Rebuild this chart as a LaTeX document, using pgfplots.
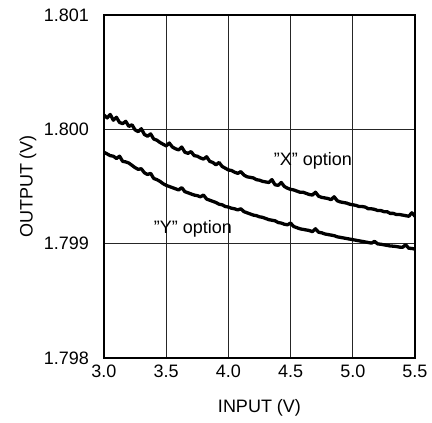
\documentclass[border=0pt]{standalone}
\usepackage{fontspec}
\setmainfont{Liberation Sans}
\usepackage{pgfplots}
\pgfplotsset{compat=1.18}

\pgfplotstableread{
x y
3.000 1.800125
3.025 1.800100
3.050 1.800130
3.075 1.800080
3.100 1.800105
3.125 1.800060
3.150 1.800050
3.175 1.800070
3.200 1.800025
3.225 1.800040
3.250 1.799995
3.275 1.799980
3.300 1.800005
3.325 1.799955
3.350 1.799940
3.375 1.799960
3.400 1.799915
3.425 1.799905
3.450 1.799885
3.475 1.799870
3.500 1.799855
3.525 1.799880
3.550 1.799845
3.575 1.799830
3.600 1.799820
3.625 1.799845
3.650 1.799800
3.675 1.799790
3.700 1.799805
3.725 1.799770
3.750 1.799765
3.775 1.799750
3.800 1.799740
3.825 1.799760
3.850 1.799720
3.875 1.799710
3.900 1.799690
3.925 1.799710
3.950 1.799675
3.975 1.799660
4.000 1.799645
4.025 1.799640
4.050 1.799625
4.075 1.799615
4.100 1.799630
4.125 1.799600
4.150 1.799585
4.175 1.799580
4.200 1.799575
4.225 1.799560
4.250 1.799555
4.275 1.799545
4.300 1.799540
4.325 1.799535
4.350 1.799560
4.375 1.799515
4.400 1.799510
4.425 1.799535
4.450 1.799500
4.475 1.799485
4.500 1.799475
4.525 1.799470
4.550 1.799460
4.575 1.799450
4.600 1.799450
4.625 1.799440
4.650 1.799430
4.675 1.799425
4.700 1.799450
4.725 1.799415
4.750 1.799405
4.775 1.799400
4.800 1.799395
4.825 1.799385
4.850 1.799410
4.875 1.799375
4.900 1.799365
4.925 1.799360
4.950 1.799355
4.975 1.799345
5.000 1.799340
5.025 1.799335
5.050 1.799325
5.075 1.799325
5.100 1.799320
5.125 1.799305
5.150 1.799305
5.175 1.799300
5.200 1.799290
5.225 1.799290
5.250 1.799280
5.275 1.799280
5.300 1.799265
5.325 1.799265
5.350 1.799255
5.375 1.799255
5.400 1.799250
5.425 1.799245
5.450 1.799240
5.475 1.799270
5.500 1.799240
}\xoption

\pgfplotstableread{
x y
3.000 1.799800
3.025 1.799785
3.050 1.799770
3.075 1.799765
3.100 1.799745
3.125 1.799765
3.150 1.799720
3.175 1.799715
3.200 1.799705
3.225 1.799685
3.250 1.799665
3.275 1.799650
3.300 1.799655
3.325 1.799620
3.350 1.799605
3.375 1.799615
3.400 1.799570
3.425 1.799560
3.450 1.799545
3.475 1.799525
3.500 1.799510
3.525 1.799500
3.550 1.799490
3.575 1.799480
3.600 1.799470
3.625 1.799490
3.650 1.799455
3.675 1.799445
3.700 1.799435
3.725 1.799425
3.750 1.799420
3.775 1.799410
3.800 1.799425
3.825 1.799390
3.850 1.799380
3.875 1.799370
3.900 1.799360
3.925 1.799345
3.950 1.799340
3.975 1.799325
4.000 1.799320
4.025 1.799310
4.050 1.799305
4.075 1.799295
4.100 1.799305
4.125 1.799280
4.150 1.799270
4.175 1.799260
4.200 1.799250
4.225 1.799245
4.250 1.799235
4.275 1.799230
4.300 1.799220
4.325 1.799210
4.350 1.799205
4.375 1.799200
4.400 1.799185
4.425 1.799180
4.450 1.799170
4.475 1.799165
4.500 1.799180
4.525 1.799150
4.550 1.799140
4.575 1.799130
4.600 1.799125
4.625 1.799120
4.650 1.799115
4.675 1.799105
4.700 1.799130
4.725 1.799100
4.750 1.799095
4.775 1.799085
4.800 1.799080
4.825 1.799075
4.850 1.799070
4.875 1.799060
4.900 1.799055
4.925 1.799050
4.950 1.799045
4.975 1.799040
5.000 1.799035
5.025 1.799030
5.050 1.799025
5.075 1.799020
5.100 1.799015
5.125 1.799010
5.150 1.799005
5.175 1.799020
5.200 1.798998
5.225 1.798995
5.250 1.798990
5.275 1.798985
5.300 1.798980
5.325 1.798978
5.350 1.798975
5.375 1.798970
5.400 1.798968
5.425 1.798990
5.450 1.798960
5.475 1.798958
5.500 1.798952
}\yoption

\begin{document}
\begin{tikzpicture}
\useasboundingbox (-104pt,-65pt) rectangle (328pt,358pt);
\begin{axis}[
at={(0,0)}, anchor=south west,
width=311pt, height=343pt,
scale only axis,
xmin=3, xmax=5.5,
ymin=1.798, ymax=1.801,
xtick={3,3.5,4,4.5,5,5.5},
xticklabels={3.0,3.5,4.0,4.5,5.0,5.5},
ytick={1.798,1.799,1.8,1.801},
yticklabels={1.798,1.799,1.800,1.801},
major tick length=0pt,
grid=major,
major grid style={black!85, line width=0.9pt},
axis line style={black, line width=1.3pt},
tick label style={font=\fontsize{18}{20}\selectfont},
xticklabel style={anchor=north, inner sep=0pt, yshift=-7pt},
yticklabel style={anchor=east, inner sep=0pt, xshift=-15pt},
label style={font=\fontsize{18}{20}\selectfont},
xlabel={INPUT (V)},
ylabel={OUTPUT (V)},
xlabel style={at={(axis description cs:0.5,-0.1458)}, anchor=center},
ylabel style={at={(axis description cs:-0.2444,0.5)}, anchor=center},
clip=true,
]
\addplot[black, line width=3.3pt, line join=round] table[x=x, y=y] {\xoption};
\addplot[black, line width=3.3pt, line join=round] table[x=x, y=y] {\yoption};
\node[font=\fontsize{18}{20}\selectfont] at (axis cs:4.68,1.799723) {"X" option};
\node[font=\fontsize{18}{20}\selectfont] at (axis cs:3.715,1.799128) {"Y" option};
\end{axis}
\end{tikzpicture}
\end{document}
